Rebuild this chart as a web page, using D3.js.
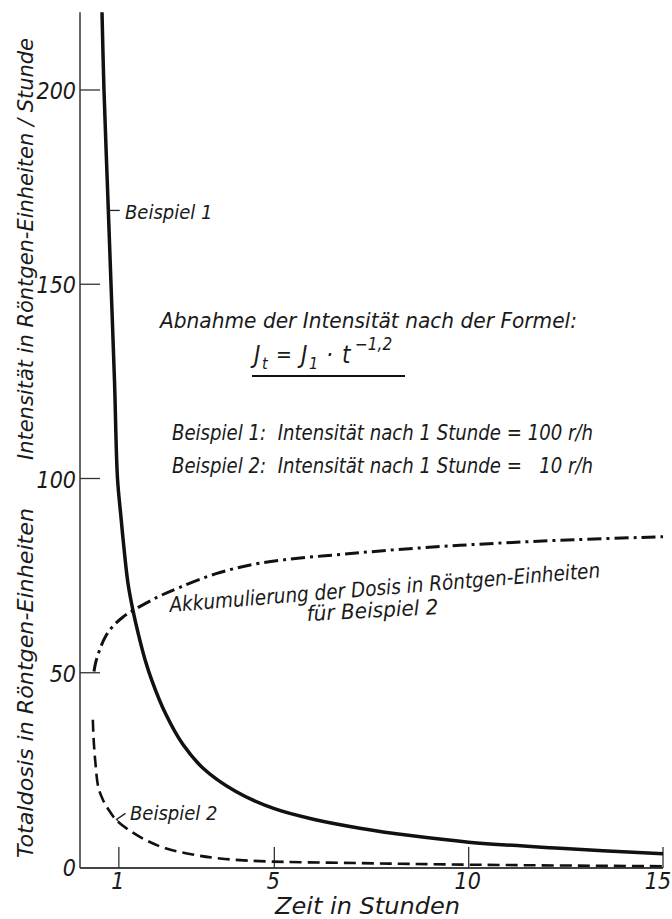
<!DOCTYPE html>
<html>
<head>
<meta charset="utf-8">
<script src="https://cdn.jsdelivr.net/npm/d3@7"></script>
<style>
  body { margin: 0; background: #fff; }
  svg text { font-family: "DejaVu Sans Condensed", "DejaVu Sans", sans-serif; font-style: oblique; fill: #1a1a1a; }
</style>
</head>
<body>
<svg width="672" height="919"></svg>
<script>
// tick values
const xTicks = [1, 5, 10, 15]
const yTicks = [50, 100, 150, 200]

// Beispiel 1: intensity, 100 r/h after 1 hour
const b1Hours = [0.566, 0.617, 0.707, 0.798, 0.888, 0.965, 1.055, 1.132, 1.235, 1.364, 1.5, 1.67, 1.85, 2.2, 2.65, 3.16, 4, 5, 6, 7.2, 8.5, 10, 12.35, 15]
const b1Values = [220, 200, 175, 150, 125, 100, 90, 82, 73, 66, 60, 53.5, 48, 39.5, 31.5, 25.5, 19.5, 15, 12.3, 10, 8.1, 6.4, 4.8, 3.4]

// Beispiel 2: intensity, 10 r/h after 1 hour
const b2Hours = [0.33, 0.35, 0.39, 0.47, 0.58, 0.72, 0.94, 1.29, 1.72, 2.2, 2.9, 3.6, 4.63, 7.2, 10, 15]
const b2Values = [37.9, 33, 27.6, 20.6, 17.5, 15, 12, 9.3, 6.8, 4.8, 3.2, 2.2, 1.5, 1.0, 0.6, 0.2]

// accumulated dose for Beispiel 2
const doseHours = [0.36, 0.4, 0.51, 0.65, 0.85, 1.1, 1.36, 2, 2.57, 3.5, 4.63, 7.2, 9.77, 12.35, 15]
const doseValues = [50.3, 52.5, 56, 59.2, 62, 64.3, 66, 69.5, 72, 75.5, 78.2, 80.9, 82.8, 84.1, 85]

const svg = d3.select("svg")

const x = d3.scaleLinear()
    .domain([0, 15])
    .range([80, 663])

const y = d3.scaleLinear()
    .domain([0, 220])
    .range([867, 12.3])

const line = d3.line()
    .x(d => x(d[0]))
    .y(d => y(d[1]))
    .curve(d3.curveCatmullRom.alpha(0.5))

// axes, drawn by hand: line + inward ticks
svg.append("line")
    .attr("x1", x(0)).attr("x2", x(0))
    .attr("y1", y(220)).attr("y2", y(0) + 1)
    .attr("stroke", "#333").attr("stroke-width", 1.5)

svg.append("line")
    .attr("x1", x(0)).attr("x2", x(15))
    .attr("y1", y(0) + 1).attr("y2", y(0) + 1)
    .attr("stroke", "#444").attr("stroke-width", 2)

svg.selectAll("line.ytick")
    .data(yTicks)
    .enter()
    .append("line")
    .attr("class", "ytick")
    .attr("x1", x(0)).attr("x2", x(0) + 20)
    .attr("y1", d => y(d)).attr("y2", d => y(d))
    .attr("stroke", "#333").attr("stroke-width", 1.3)

svg.selectAll("text.ylab")
    .data([0].concat(yTicks))
    .enter()
    .append("text")
    .attr("class", "ylab")
    .attr("x", x(0) - 4)
    .attr("y", d => y(d) + 9)
    .attr("text-anchor", "end")
    .style("font-size", "23px")
    .text(d => d)

svg.selectAll("line.xtick")
    .data(xTicks)
    .enter()
    .append("line")
    .attr("class", "xtick")
    .attr("x1", d => x(d)).attr("x2", d => x(d))
    .attr("y1", y(0) + 1).attr("y2", y(0) - 20)
    .attr("stroke", "#333").attr("stroke-width", 1.3)

svg.selectAll("text.xlab")
    .data(xTicks)
    .enter()
    .append("text")
    .attr("class", "xlab")
    .attr("x", d => d === 15 ? x(d) - 5 : x(d) - 1)
    .attr("y", 889)
    .attr("text-anchor", "middle")
    .style("font-size", "23px")
    .text(d => d)

svg.append("text")
    .attr("x", 275)
    .attr("y", 914)
    .attr("textLength", 185)
    .attr("lengthAdjust", "spacingAndGlyphs")
    .style("font-size", "23px")
    .text("Zeit in Stunden")

svg.append("text")
    .attr("transform", "translate(33,460) rotate(-90)")
    .attr("textLength", 422)
    .attr("lengthAdjust", "spacingAndGlyphs")
    .style("font-size", "21px")
    .text("Intensität in Röntgen-Einheiten / Stunde")

svg.append("text")
    .attr("transform", "translate(33,858) rotate(-90)")
    .attr("textLength", 350)
    .attr("lengthAdjust", "spacingAndGlyphs")
    .style("font-size", "22px")
    .text("Totaldosis in Röntgen-Einheiten")

// curves
svg.append("path")
    .datum(d3.zip(doseHours, doseValues))
    .attr("d", line)
    .attr("fill", "none")
    .attr("stroke", "#111")
    .attr("stroke-width", 3)
    .attr("stroke-dasharray", "14,5,3,5")

svg.append("path")
    .datum(d3.zip(b2Hours, b2Values))
    .attr("d", line)
    .attr("fill", "none")
    .attr("stroke", "#111")
    .attr("stroke-width", 2.6)
    .attr("stroke-dasharray", "12,6")

svg.append("path")
    .datum(d3.zip(b1Hours, b1Values))
    .attr("d", line)
    .attr("fill", "none")
    .attr("stroke", "#111")
    .attr("stroke-width", 3.5)

// curve labels
svg.append("line")
    .attr("x1", x(0.74)).attr("x2", x(0.74) + 11)
    .attr("y1", y(169)).attr("y2", y(169))
    .attr("stroke", "#222").attr("stroke-width", 1.3)

svg.append("text")
    .attr("x", 125)
    .attr("y", 219)
    .style("font-size", "20px")
    .text("Beispiel 1")

svg.append("path")
    .attr("d", `M${x(0.94) + 9},${y(12) - 7} L${x(0.94)},${y(12) - 1} L${x(0.94) + 5},${y(12) + 4}`)
    .attr("fill", "none")
    .attr("stroke", "#222").attr("stroke-width", 1.3)

svg.append("text")
    .attr("x", 130)
    .attr("y", 820)
    .style("font-size", "20px")
    .text("Beispiel 2")

// formula box
svg.append("text")
    .attr("x", 160)
    .attr("y", 328)
    .attr("textLength", 417)
    .attr("lengthAdjust", "spacingAndGlyphs")
    .style("font-size", "22px")
    .text("Abnahme der Intensität nach der Formel:")

const formulaParts = [
    {t: "J", dx: 254, dy: 363, s: 24},
    {t: "t", dx: 262, dy: 369, s: 16},
    {t: "=", dx: 276, dy: 362, s: 21},
    {t: "J", dx: 301, dy: 363, s: 24},
    {t: "1", dx: 309, dy: 369, s: 16},
    {t: "·", dx: 326, dy: 363, s: 24},
    {t: "t", dx: 342, dy: 363, s: 24},
    {t: "−1,2", dx: 355, dy: 350, s: 17}
]

svg.selectAll("text.formula")
    .data(formulaParts)
    .enter()
    .append("text")
    .attr("class", "formula")
    .attr("x", d => d.dx)
    .attr("y", d => d.dy)
    .style("font-size", d => d.s + "px")
    .text(d => d.t)

svg.append("line")
    .attr("x1", 252).attr("x2", 405)
    .attr("y1", 376).attr("y2", 376)
    .attr("stroke", "#111").attr("stroke-width", 2)

svg.append("text")
    .attr("x", 172)
    .attr("y", 440)
    .attr("textLength", 421)
    .attr("lengthAdjust", "spacingAndGlyphs")
    .style("font-size", "21px")
    .attr("xml:space", "preserve")
    .text("Beispiel 1:  Intensität nach 1 Stunde = 100 r/h")

svg.append("text")
    .attr("x", 172)
    .attr("y", 473)
    .attr("textLength", 421)
    .attr("lengthAdjust", "spacingAndGlyphs")
    .style("font-size", "21px")
    .attr("xml:space", "preserve")
    .text("Beispiel 2:  Intensität nach 1 Stunde =   10 r/h")

svg.append("text")
    .attr("transform", "translate(170,612) rotate(-4.6)")
    .attr("textLength", 432)
    .attr("lengthAdjust", "spacingAndGlyphs")
    .style("font-size", "21px")
    .text("Akkumulierung der Dosis in Röntgen-Einheiten")

svg.append("text")
    .attr("transform", "translate(307,621) rotate(-3)")
    .attr("textLength", 132)
    .attr("lengthAdjust", "spacingAndGlyphs")
    .style("font-size", "21px")
    .text("für Beispiel 2")
</script>
</body>
</html>
